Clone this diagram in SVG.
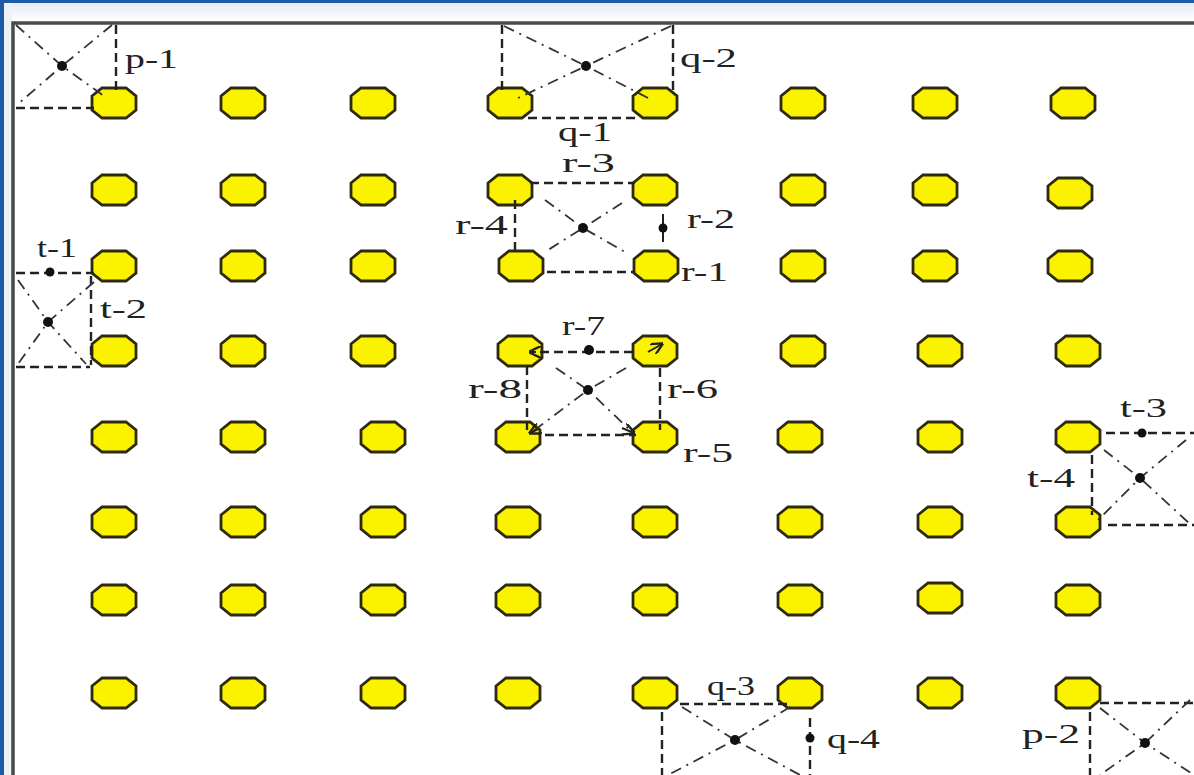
<svg xmlns="http://www.w3.org/2000/svg" xmlns:xlink="http://www.w3.org/1999/xlink" width="1194" height="775" viewBox="0 0 1194 775">
<defs>
<linearGradient id="topg" x1="0" y1="0" x2="0" y2="1">
<stop offset="0" stop-color="#dfe9f5"/><stop offset="1" stop-color="#ffffff"/>
</linearGradient>
<path id="oct" d="M-22,-7 L-12,-15 L12,-15 L22,-7 L22,7 L12,15 L-12,15 L-22,7 Z" class="oct"/>
<marker id="ah" viewBox="0 0 10 10" refX="9" refY="5" markerWidth="6" markerHeight="6" orient="auto"><path d="M0,0 L10,5 L0,10" fill="none" stroke="#222" stroke-width="2"/></marker>
</defs>
<style>
.oct{fill:#fbf200;stroke:#2e2a10;stroke-width:2.8}
.dash{fill:none;stroke:#222;stroke-width:2.4;stroke-dasharray:9 5}
.dd{fill:none;stroke:#333;stroke-width:1.8;stroke-dasharray:11 6 2 6}
.dot{fill:#111}
.lbl{font-family:"Liberation Serif","Times New Roman",serif;font-size:28px;fill:#222}
.frame{stroke:#4a4a4a;stroke-width:3.5;fill:none}
</style>
<rect x="0" y="0" width="1194" height="775" fill="#ffffff"/>
<rect x="0" y="0" width="1194" height="22" fill="url(#topg)"/>
<rect x="0" y="0" width="1194" height="3" fill="#1f5ba6"/>
<rect x="0" y="0" width="4" height="775" fill="#1f5ba6"/>
<rect x="4" y="3" width="8" height="772" fill="#eef3f8"/>
<path class="frame" d="M13,775 L13,23 L1194,23"/>

<g id="nodes">
<g id="n1-1"><use xlink:href="#oct" x="114" y="103"/></g>
<g id="n1-2"><use xlink:href="#oct" x="243" y="103"/></g>
<g id="n1-3"><use xlink:href="#oct" x="373" y="103"/></g>
<g id="n1-4"><use xlink:href="#oct" x="510" y="103"/></g>
<g id="n1-5"><use xlink:href="#oct" x="655" y="103"/></g>
<g id="n1-6"><use xlink:href="#oct" x="803" y="103"/></g>
<g id="n1-7"><use xlink:href="#oct" x="935" y="103"/></g>
<g id="n1-8"><use xlink:href="#oct" x="1073" y="103"/></g>

<g id="n2-1"><use xlink:href="#oct" x="114" y="190"/></g>
<g id="n2-2"><use xlink:href="#oct" x="243" y="190"/></g>
<g id="n2-3"><use xlink:href="#oct" x="373" y="190"/></g>
<g id="n2-4"><use xlink:href="#oct" x="510" y="190"/></g>
<g id="n2-5"><use xlink:href="#oct" x="655" y="190"/></g>
<g id="n2-6"><use xlink:href="#oct" x="803" y="190"/></g>
<g id="n2-7"><use xlink:href="#oct" x="935" y="190"/></g>
<g id="n2-8"><use xlink:href="#oct" x="1070" y="193"/></g>

<g id="n3-1"><use xlink:href="#oct" x="114" y="266"/></g>
<g id="n3-2"><use xlink:href="#oct" x="243" y="266"/></g>
<g id="n3-3"><use xlink:href="#oct" x="373" y="266"/></g>
<g id="n3-4"><use xlink:href="#oct" x="521" y="266"/></g>
<g id="n3-5"><use xlink:href="#oct" x="656" y="266"/></g>
<g id="n3-6"><use xlink:href="#oct" x="803" y="266"/></g>
<g id="n3-7"><use xlink:href="#oct" x="935" y="266"/></g>
<g id="n3-8"><use xlink:href="#oct" x="1070" y="266"/></g>

<g id="n4-1"><use xlink:href="#oct" x="114" y="351"/></g>
<g id="n4-2"><use xlink:href="#oct" x="243" y="351"/></g>
<g id="n4-3"><use xlink:href="#oct" x="373" y="351"/></g>
<g id="n4-4"><use xlink:href="#oct" x="520" y="351"/></g>
<g id="n4-5"><use xlink:href="#oct" x="655" y="351"/></g>
<g id="n4-6"><use xlink:href="#oct" x="803" y="351"/></g>
<g id="n4-7"><use xlink:href="#oct" x="940" y="351"/></g>
<g id="n4-8"><use xlink:href="#oct" x="1078" y="351"/></g>

<g id="n5-1"><use xlink:href="#oct" x="114" y="437"/></g>
<g id="n5-2"><use xlink:href="#oct" x="243" y="437"/></g>
<g id="n5-3"><use xlink:href="#oct" x="383" y="437"/></g>
<g id="n5-4"><use xlink:href="#oct" x="518" y="437"/></g>
<g id="n5-5"><use xlink:href="#oct" x="655" y="437"/></g>
<g id="n5-6"><use xlink:href="#oct" x="800" y="437"/></g>
<g id="n5-7"><use xlink:href="#oct" x="940" y="437"/></g>
<g id="n5-8"><use xlink:href="#oct" x="1078" y="437"/></g>

<g id="n6-1"><use xlink:href="#oct" x="114" y="522"/></g>
<g id="n6-2"><use xlink:href="#oct" x="243" y="522"/></g>
<g id="n6-3"><use xlink:href="#oct" x="383" y="522"/></g>
<g id="n6-4"><use xlink:href="#oct" x="518" y="522"/></g>
<g id="n6-5"><use xlink:href="#oct" x="655" y="522"/></g>
<g id="n6-6"><use xlink:href="#oct" x="800" y="522"/></g>
<g id="n6-7"><use xlink:href="#oct" x="940" y="522"/></g>
<g id="n6-8"><use xlink:href="#oct" x="1078" y="522"/></g>

<g id="n7-1"><use xlink:href="#oct" x="114" y="600"/></g>
<g id="n7-2"><use xlink:href="#oct" x="243" y="600"/></g>
<g id="n7-3"><use xlink:href="#oct" x="383" y="600"/></g>
<g id="n7-4"><use xlink:href="#oct" x="518" y="600"/></g>
<g id="n7-5"><use xlink:href="#oct" x="655" y="600"/></g>
<g id="n7-6"><use xlink:href="#oct" x="800" y="600"/></g>
<g id="n7-7"><use xlink:href="#oct" x="940" y="598"/></g>
<g id="n7-8"><use xlink:href="#oct" x="1078" y="600"/></g>

<g id="n8-1"><use xlink:href="#oct" x="114" y="693"/></g>
<g id="n8-2"><use xlink:href="#oct" x="243" y="693"/></g>
<g id="n8-3"><use xlink:href="#oct" x="383" y="693"/></g>
<g id="n8-4"><use xlink:href="#oct" x="518" y="693"/></g>
<g id="n8-5"><use xlink:href="#oct" x="655" y="693"/></g>
<g id="n8-6"><use xlink:href="#oct" x="800" y="693"/></g>
<g id="n8-7"><use xlink:href="#oct" x="940" y="693"/></g>
<g id="n8-8"><use xlink:href="#oct" x="1078" y="693"/></g>
</g>

<g id="connectors">
<!-- p-1 -->
<path class="dash" d="M116,25 L116,92 M16,108 L94,108"/>
<path class="dd" d="M16,25 L62,66 L104,96 M112,25 L62,66 L18,104"/>
<!-- q -->
<path class="dash" d="M502,25 L502,92 M673,25 L673,92 M528,118 L640,118"/>
<path class="dd" d="M504,26 L586,66 L652,100 M671,26 L586,66 L514,100"/>
<!-- r-1..r-4 -->
<path class="dash" d="M530,183 L635,183 M547,272 L635,272 M515,200 L515,252"/>
<path class="dd" d="M545,200 L583,228 L625,252 M622,203 L583,228 L548,250"/>
<path d="M663,214 L663,242" stroke="#222" stroke-width="2"/>
<!-- t-1, t-2 -->
<path class="dash" d="M16,273 L94,273 M91,276 L91,365 M16,367 L90,367"/>
<path class="dd" d="M18,280 L48,322 L86,364 M94,282 L48,322 L18,364"/>
<!-- r-5..r-8 -->
<path class="dash" d="M540,352 L634,352 M527,366 L527,430 M660,368 L660,430 M545,435 L636,435"/>
<path class="dd" d="M556,368 L588,390 L632,432 M626,368 L588,390 L532,432"/>
<path d="M536,352 L530,352" stroke="#222" stroke-width="2" marker-end="url(#ah)"/>
<path d="M648,352 L662,344" stroke="#222" stroke-width="2" marker-end="url(#ah)"/>
<path d="M622,428 L634,433" stroke="#222" stroke-width="2" marker-end="url(#ah)"/>
<path d="M538,429 L530,433" stroke="#222" stroke-width="2" marker-end="url(#ah)"/>
<!-- t-3, t-4 -->
<path class="dash" d="M1106,433 L1194,433 M1092,455 L1092,515 M1108,525 L1194,525"/>
<path class="dd" d="M1104,450 L1140,478 L1190,524 M1186,440 L1140,478 L1098,520"/>
<!-- q-3, q-4 -->
<path class="dash" d="M680,704 L790,704 M662,712 L662,775 M810,718 L810,775"/>
<path class="dd" d="M682,707 L735,740 L800,775 M790,707 L735,740 L668,775"/>
<!-- p-2 -->
<path class="dash" d="M1100,703 L1194,703 M1090,712 L1090,775"/>
<path class="dd" d="M1100,708 L1145,743 L1194,775 M1190,700 L1145,743 L1100,775"/>
<!-- dots -->
<circle class="dot" cx="62" cy="66" r="5"/>
<circle class="dot" cx="586" cy="66" r="5"/>
<circle class="dot" cx="583" cy="228" r="5"/>
<circle class="dot" cx="663" cy="228" r="4.5"/>
<circle class="dot" cx="50" cy="272" r="4.5"/>
<circle class="dot" cx="48" cy="322" r="5"/>
<circle class="dot" cx="589" cy="350" r="5"/>
<circle class="dot" cx="588" cy="390" r="5"/>
<circle class="dot" cx="1142" cy="433" r="4.5"/>
<circle class="dot" cx="1140" cy="478" r="5"/>
<circle class="dot" cx="735" cy="740" r="5"/>
<circle class="dot" cx="810" cy="738" r="4.5"/>
<circle class="dot" cx="1145" cy="743" r="5"/>
</g>

<g id="labels">
<text class="lbl" x="125" y="68" textLength="53" lengthAdjust="spacingAndGlyphs">p-1</text>
<text class="lbl" x="680" y="67" textLength="57" lengthAdjust="spacingAndGlyphs">q-2</text>
<text class="lbl" x="558" y="141" textLength="54" lengthAdjust="spacingAndGlyphs">q-1</text>
<text class="lbl" x="562" y="172" textLength="53" lengthAdjust="spacingAndGlyphs">r-3</text>
<text class="lbl" x="455" y="234" textLength="53" lengthAdjust="spacingAndGlyphs">r-4</text>
<text class="lbl" x="687" y="228" textLength="48" lengthAdjust="spacingAndGlyphs">r-2</text>
<text class="lbl" x="681" y="281" textLength="47" lengthAdjust="spacingAndGlyphs">r-1</text>
<text class="lbl" x="37" y="257" textLength="40" lengthAdjust="spacingAndGlyphs">t-1</text>
<text class="lbl" x="100" y="318" textLength="47" lengthAdjust="spacingAndGlyphs">t-2</text>
<text class="lbl" x="562" y="335" textLength="43" lengthAdjust="spacingAndGlyphs">r-7</text>
<text class="lbl" x="468" y="398" textLength="54" lengthAdjust="spacingAndGlyphs">r-8</text>
<text class="lbl" x="667" y="398" textLength="51" lengthAdjust="spacingAndGlyphs">r-6</text>
<text class="lbl" x="683" y="462" textLength="50" lengthAdjust="spacingAndGlyphs">r-5</text>
<text class="lbl" x="1120" y="417" textLength="47" lengthAdjust="spacingAndGlyphs">t-3</text>
<text class="lbl" x="1027" y="487" textLength="48" lengthAdjust="spacingAndGlyphs">t-4</text>
<text class="lbl" x="707" y="695" textLength="48" lengthAdjust="spacingAndGlyphs">q-3</text>
<text class="lbl" x="827" y="748" textLength="53" lengthAdjust="spacingAndGlyphs">q-4</text>
<text class="lbl" x="1022" y="743" textLength="58" lengthAdjust="spacingAndGlyphs">p-2</text>
</g>
</svg>
